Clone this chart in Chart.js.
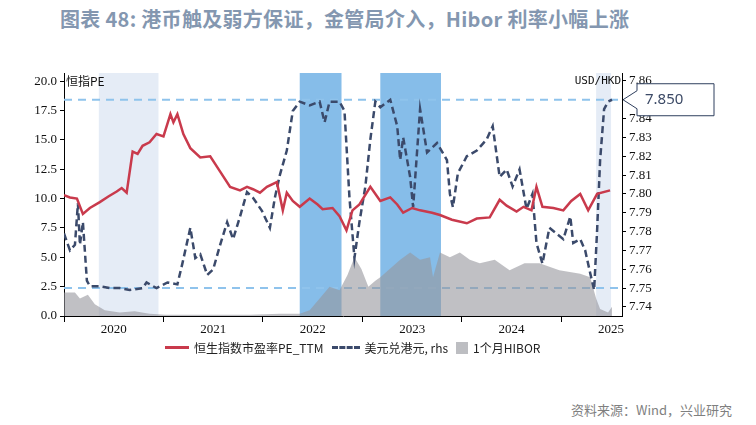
<!DOCTYPE html>
<html>
<head>
<meta charset="utf-8">
<script src="https://cdn.jsdelivr.net/npm/chart.js@4"></script>
<style>
  body { margin: 0; background: #fff; width: 756px; height: 425px; position: relative; overflow: hidden; font-family: 'Noto Sans CJK SC', sans-serif; }
  #title { position: absolute; left: 60px; top: 4px; font-size: 20px; font-weight: bold; color: #8497b0; letter-spacing: 0.3px; }
  #wrap { position: absolute; left: 0; top: 0; width: 756px; height: 340px; }
  #legend { position: absolute; left: 165px; top: 339px; font-size: 12px; color: #222; display: flex; align-items: center; white-space: nowrap; }
  #legend span.sw { display: inline-block; margin: 0 5px 0 0; }
  #source { position: absolute; right: 24px; top: 400px; font-size: 13px; color: #7f7f7f; }
</style>
</head>
<body>
<div id="title">图表 48: 港币触及弱方保证，金管局介入，Hibor 利率小幅上涨</div>
<div id="wrap"><canvas id="c"></canvas></div>
<div id="legend">
  <span class="sw" style="width:24px;height:0;border-top:3px solid #c93a4c"></span><span style="margin-right:8px">恒生指数市盈率PE_TTM</span>
  <span class="sw" style="width:28px;height:0;border-top:3px dashed #3b4a6b"></span><span style="margin-right:8px">美元兑港元, rhs</span>
  <span class="sw" style="width:12px;height:12px;background:#bdbec2"></span><span>1个月HIBOR</span>
</div>
<div id="source">资料来源：Wind，兴业研究</div>
<script>
// 恒指PE (左轴)
const peDates = [2020.00,2020.06,2020.13,2020.19,2020.26,2020.36,2020.45,2020.53,2020.58,2020.63,2020.69,2020.74,2020.79,2020.86,2020.93,2021.00,2021.07,2021.10,2021.14,2021.20,2021.27,2021.37,2021.47,2021.57,2021.67,2021.77,2021.84,2021.90,2021.97,2022.04,2022.14,2022.20,2022.24,2022.30,2022.37,2022.47,2022.55,2022.60,2022.70,2022.77,2022.84,2022.90,2022.97,2023.08,2023.18,2023.28,2023.35,2023.41,2023.50,2023.58,2023.70,2023.78,2023.90,2024.05,2024.15,2024.28,2024.38,2024.45,2024.55,2024.62,2024.70,2024.75,2024.81,2024.92,2025.02,2025.10,2025.19,2025.27,2025.36,2025.49];
const peValues = [10.3,10.1,10.0,8.7,9.2,9.7,10.2,10.6,10.9,10.5,14.0,13.8,14.5,14.8,15.5,15.3,17.2,16.5,17.2,15.5,14.3,13.5,13.6,12.3,11.0,10.7,11.0,10.8,10.5,11.0,11.4,9.0,10.5,9.8,9.3,10.0,9.5,9.1,9.2,8.5,7.3,9.0,9.5,11.0,9.8,10.1,9.5,8.8,9.2,9.0,8.8,8.6,8.2,7.9,8.3,8.4,9.9,9.4,8.9,9.3,9.0,11.0,9.3,9.2,9.0,9.8,10.4,9.0,10.4,10.7];

// 美元兑港元 (右轴)
const fxDates = [2020.00,2020.06,2020.11,2020.14,2020.16,2020.19,2020.23,2020.26,2020.36,2020.46,2020.56,2020.66,2020.79,2020.83,2020.93,2021.04,2021.14,2021.19,2021.27,2021.32,2021.37,2021.44,2021.50,2021.57,2021.64,2021.70,2021.77,2021.84,2021.90,2021.99,2022.07,2022.12,2022.17,2022.24,2022.30,2022.37,2022.47,2022.57,2022.62,2022.67,2022.77,2022.82,2022.87,2022.92,2022.97,2023.03,2023.08,2023.13,2023.18,2023.28,2023.35,2023.38,2023.41,2023.48,2023.51,2023.58,2023.65,2023.75,2023.85,2023.88,2023.91,2023.96,2024.05,2024.15,2024.25,2024.31,2024.38,2024.45,2024.51,2024.58,2024.65,2024.71,2024.75,2024.81,2024.88,2024.95,2025.02,2025.09,2025.12,2025.19,2025.24,2025.29,2025.33,2025.36,2025.39,2025.43,2025.47,2025.51];
const fxValues = [7.779,7.770,7.773,7.795,7.773,7.785,7.754,7.751,7.751,7.750,7.750,7.749,7.750,7.753,7.750,7.753,7.752,7.763,7.782,7.766,7.768,7.757,7.760,7.773,7.785,7.776,7.788,7.801,7.798,7.791,7.782,7.798,7.810,7.823,7.844,7.849,7.847,7.849,7.838,7.849,7.849,7.844,7.798,7.766,7.785,7.804,7.829,7.849,7.846,7.850,7.836,7.818,7.830,7.809,7.793,7.845,7.822,7.827,7.818,7.800,7.793,7.811,7.820,7.823,7.829,7.836,7.809,7.813,7.804,7.813,7.792,7.800,7.774,7.763,7.782,7.779,7.776,7.788,7.774,7.776,7.770,7.758,7.749,7.781,7.818,7.845,7.849,7.850];

// 1个月HIBOR (左轴)
const hiborDates = [2020.00,2020.11,2020.16,2020.24,2020.31,2020.41,2020.56,2020.71,2020.86,2021.02,2021.37,2021.87,2022.17,2022.37,2022.47,2022.57,2022.67,2022.77,2022.85,2022.92,2022.99,2023.06,2023.13,2023.18,2023.38,2023.48,2023.58,2023.68,2023.71,2023.78,2023.88,2023.98,2024.08,2024.18,2024.33,2024.48,2024.63,2024.78,2024.98,2025.19,2025.29,2025.35,2025.39,2025.47,2025.51];
const hiborValues = [2.0,2.0,1.5,1.8,1.0,0.5,0.3,0.4,0.2,0.1,0.1,0.1,0.2,0.2,0.5,1.5,2.5,2.2,3.5,5.0,4.0,2.5,3.0,3.3,4.8,5.4,4.8,5.0,3.3,5.4,5.0,5.4,4.8,4.5,4.8,3.9,4.5,4.5,3.9,3.6,3.3,1.5,0.6,0.3,0.8];

const yearTicks = [2020,2020.5,2021,2021.5,2022,2022.5,2023,2023.5,2024,2024.5,2025,2025.5];
const leftTicks = [0,2.5,5,7.5,10,12.5,15,17.5,20];
const rightTicks = [7.74,7.75,7.76,7.77,7.78,7.79,7.80,7.81,7.82,7.83,7.84,7.85,7.86];
const lightBands = [[2020.35,2020.95],[2025.35,2025.50]];
const darkBands = [[2022.37,2022.79],[2023.18,2023.79]];
const pegLines = [7.85,7.75];

const pts = (xs, ys) => xs.map((x, i) => ({ x, y: ys[i] }));
const serif = { family: 'Liberation Serif', size: 13 };

const decor = {
  id: 'decor',
  beforeDatasetsDraw(chart) {
    const { ctx, chartArea: a, scales: { x, y1 } } = chart;
    ctx.save();
    const band = (list, color) => list.forEach(([s, e]) => {
      ctx.fillStyle = color;
      ctx.fillRect(x.getPixelForValue(s), a.top, x.getPixelForValue(e) - x.getPixelForValue(s), a.bottom - a.top);
    });
    band(lightBands, '#e5ecf6');
    band(darkBands, '#86bde9');
    ctx.strokeStyle = '#8fc3ec';
    ctx.lineWidth = 2;
    ctx.setLineDash([8, 6]);
    pegLines.forEach(v => {
      const py = y1.getPixelForValue(v);
      ctx.beginPath(); ctx.moveTo(a.left, py); ctx.lineTo(a.right, py); ctx.stroke();
    });
    ctx.restore();
  },
  afterDraw(chart) {
    const { ctx, chartArea: a, scales: { y1 } } = chart;
    ctx.save();
    ctx.fillStyle = '#111';
    ctx.font = '12px "Noto Sans CJK SC"';
    ctx.textBaseline = 'middle';
    ctx.fillText('恒指PE', a.left + 2, a.top + 8);
    ctx.font = '11px "DejaVu Sans Mono"';
    ctx.textAlign = 'right';
    ctx.fillText('USD/HKD', a.right - 1, a.top + 8);
    // 7.850 标注框
    const py = y1.getPixelForValue(7.85);
    const bx = a.right + 15, bw = 77, top = py - 16, bh = 32;
    ctx.beginPath();
    ctx.moveTo(a.right + 1, py);
    ctx.lineTo(bx, py - 9); ctx.lineTo(bx, top); ctx.lineTo(bx + bw, top);
    ctx.lineTo(bx + bw, top + bh); ctx.lineTo(bx, top + bh); ctx.lineTo(bx, py + 9);
    ctx.closePath();
    ctx.fillStyle = '#fff'; ctx.fill();
    ctx.strokeStyle = '#2f3f5e'; ctx.lineWidth = 1; ctx.setLineDash([]); ctx.stroke();
    ctx.fillStyle = '#3c4a66';
    ctx.font = '15px "Noto Sans"';
    ctx.textAlign = 'left';
    ctx.fillText('7.850', bx + 8, py);
    ctx.restore();
  }
};

new Chart(document.getElementById('c'), {
  type: 'line',
  data: {
    datasets: [
      { label: 'PE', data: pts(peDates, peValues), yAxisID: 'y', borderColor: '#c93a4c', borderWidth: 2.5, pointRadius: 0, order: 1 },
      { label: 'FX', data: pts(fxDates, fxValues), yAxisID: 'y1', borderColor: '#3b4a6b', borderWidth: 2.5, borderDash: [7, 4], pointRadius: 0, order: 2 },
      { label: 'HIBOR', data: pts(hiborDates, hiborValues), yAxisID: 'y', borderWidth: 0, backgroundColor: 'rgba(150,150,156,0.6)', fill: 'origin', pointRadius: 0, order: 3 },
    ],
  },
  options: {
    responsive: true,
    maintainAspectRatio: false,
    animation: false,
    layout: { padding: { top: 73 } },
    plugins: { legend: { display: false }, tooltip: { enabled: false } },
    scales: {
      x: {
        type: 'linear', min: 2020, max: 2025.61,
        afterBuildTicks: s => { s.ticks = yearTicks.map(v => ({ value: v })); },
        afterFit: s => { s.height = 24; },
        grid: { drawOnChartArea: false, tickLength: 6, color: c => (c.tick && c.tick.value % 1 === 0 ? '#000' : 'rgba(0,0,0,0)') },
        border: { color: '#000', width: 1 },
        ticks: { color: '#111', font: serif, maxRotation: 0, autoSkip: false, padding: 0,
          callback: v => (v % 1 === 0.5 ? String(Math.floor(v)) : '') },
      },
      y: {
        position: 'left', min: 0, max: 20.7,
        afterBuildTicks: s => { s.ticks = leftTicks.map(v => ({ value: v })); },
        afterFit: s => { s.width = 64; },
        grid: { drawOnChartArea: false, tickLength: 4, color: '#000' },
        border: { color: '#000', width: 1 },
        ticks: { color: '#111', font: serif, padding: 3, callback: v => v.toFixed(1) },
      },
      y1: {
        position: 'right', min: 7.7352, max: 7.8642,
        afterBuildTicks: s => { s.ticks = rightTicks.map(v => ({ value: v })); },
        afterFit: s => { s.width = 134; },
        grid: { drawOnChartArea: false, tickLength: 4, color: '#000' },
        border: { color: '#000', width: 1 },
        ticks: { color: '#111', font: serif, padding: 3, callback: v => v.toFixed(2) },
      },
    },
  },
  plugins: [decor],
});
</script>
</body>
</html>
